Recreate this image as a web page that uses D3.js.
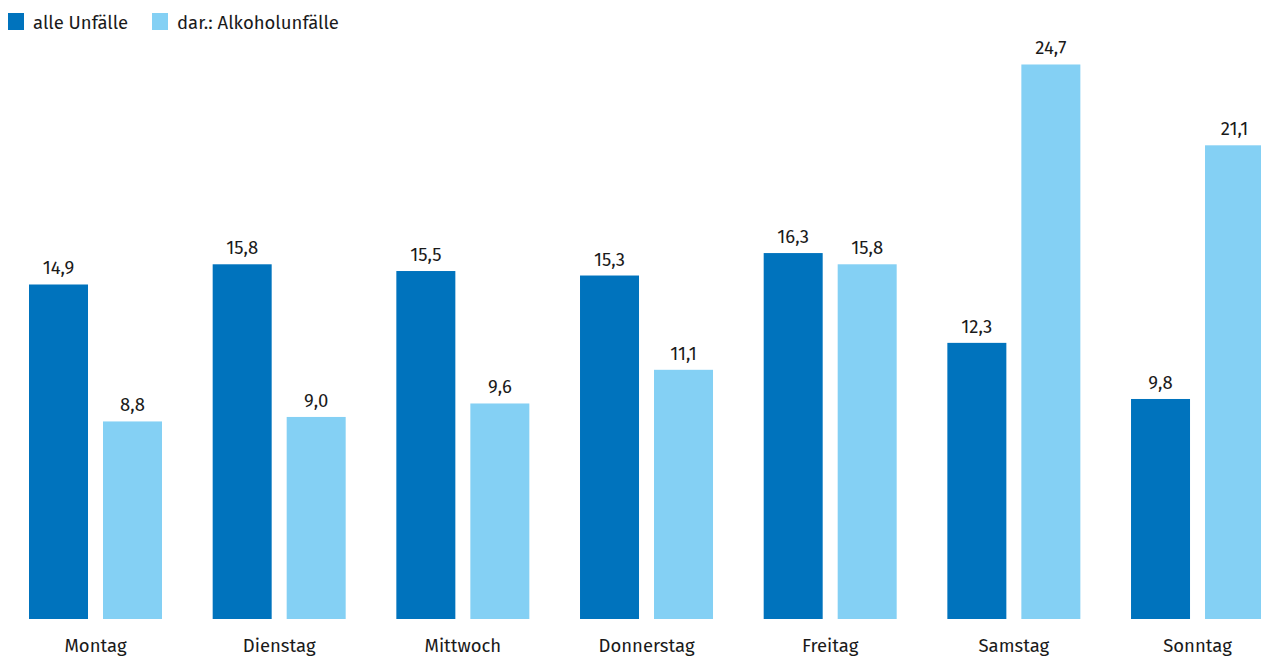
<!DOCTYPE html>
<html><head><meta charset="utf-8">
<script src="https://cdn.jsdelivr.net/npm/d3@7"></script>
<style>
html,body{margin:0;padding:0;background:#fff;overflow:hidden}
svg{display:block;font-family:"Fira Sans","Noto Sans","Open Sans",sans-serif}
</style></head><body>
<svg id="c" width="1261" height="657"></svg>
<script>
const days = ["Montag","Dienstag","Mittwoch","Donnerstag","Freitag","Samstag","Sonntag"];
const seriesNames = ["alle Unfälle","dar.: Alkoholunfälle"];
const alleUnfaelle = [14.9,15.8,15.5,15.3,16.3,12.3,9.8];
const alkoholUnfaelle = [8.8,9.0,9.6,11.1,15.8,24.7,21.1];
const colors = ["#0073bd","#84d0f4"];

const svg = d3.select("#c");
const step = 183.67;
const pi = 50.67/step;
const x0 = d3.scaleBand().domain(days).range([3.67, 3.67 + 7*step]).paddingInner(pi).paddingOuter(pi/2);
const x1 = d3.scaleBand().domain(seriesNames).range([0, x0.bandwidth()]).paddingInner(0.2027).paddingOuter(0);
const y = d3.scaleLinear().domain([0,25]).range([619, 619 - 25*22.45]);
const color = d3.scaleOrdinal().domain(seriesNames).range(colors);
const fmt = v => d3.format(".1f")(v).replace(".", ",");
const FS = 18.5;

const rows = days.map((d,i)=>({day:d, vals:[
  {s:seriesNames[0], v:alleUnfaelle[i]},
  {s:seriesNames[1], v:alkoholUnfaelle[i]}]}));

const g = svg.selectAll("g.grp").data(rows).join("g").attr("class","grp")
  .attr("transform", d=>`translate(${x0(d.day)},0)`);
g.selectAll("rect").data(d=>d.vals).join("rect")
  .attr("x", d=>x1(d.s)).attr("width", x1.bandwidth())
  .attr("y", d=>y(d.v)).attr("height", d=>y(0)-y(d.v))
  .attr("fill", d=>color(d.s));
g.selectAll("text.val").data(d=>d.vals).join("text").attr("class","val")
  .attr("x", d=>x1(d.s)+x1.bandwidth()/2).attr("y", d=>y(d.v)-10)
  .attr("text-anchor","middle").attr("font-size",FS).attr("fill","#1a1a1a")
  .text(d=>fmt(d.v));

const xAxis = d3.axisBottom(x0).tickSize(0).tickPadding(0);
const ax = svg.append("g").attr("transform","translate(0,619)").call(xAxis);
ax.select(".domain").remove();
ax.selectAll("text").attr("font-size",FS).attr("fill","#1a1a1a")
  .attr("font-family","'Fira Sans','Noto Sans',sans-serif").attr("dy",null).attr("y",33);

// legend
const legX = [8,152];
const lg = svg.selectAll("g.leg").data(seriesNames).join("g").attr("class","leg")
  .attr("transform",(d,i)=>`translate(${legX[i]},13)`);
lg.append("rect").attr("width",16).attr("height",17).attr("fill",d=>color(d));
lg.append("text").attr("x",25).attr("y",16).attr("font-size",FS).attr("fill","#1a1a1a").text(d=>d);
</script>
</body></html>
